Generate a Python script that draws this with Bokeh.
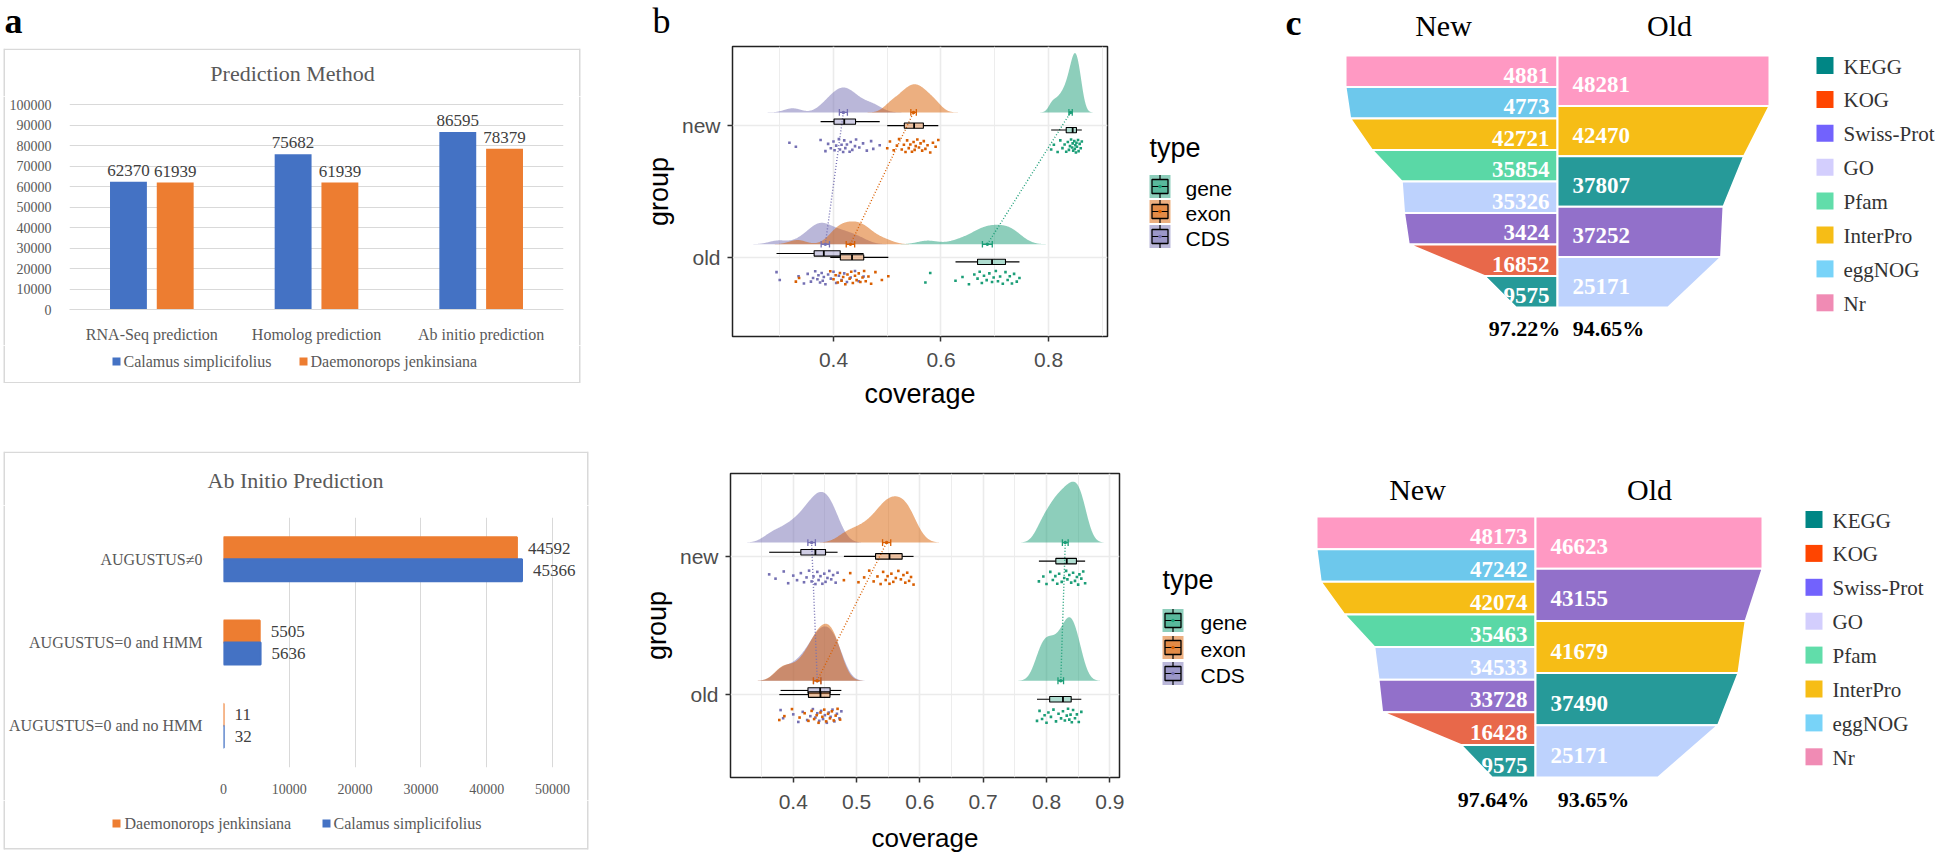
import numpy as np
from bokeh.plotting import figure
from bokeh.layouts import row, column
from bokeh.models import (ColumnDataSource, FactorRange, Range1d, FixedTicker,
                          NumeralTickFormatter, Spacer)
from bokeh.transform import dodge
from bokeh.core.properties import value
from bokeh.embed import file_html
from bokeh.resources import INLINE

# ---------------- panel a (top): Prediction Method ----------------
A1_CATEGORIES = ["RNA-Seq prediction", "Homolog prediction", "Ab initio prediction"]
A1_CALAMUS = [62370, 75682, 86595]
A1_DAEMONOROPS = [61939, 61939, 78379]
A1_YTICKS = [0, 10000, 20000, 30000, 40000, 50000, 60000, 70000, 80000, 90000, 100000]

# ---------------- panel a (bottom): Ab Initio Prediction ----------------
A2_CATEGORIES = ["AUGUSTUS\u22600", "AUGUSTUS=0 and HMM", "AUGUSTUS=0 and no HMM"]
A2_DAEMONOROPS = [44592, 5505, 11]
A2_CALAMUS = [45366, 5636, 32]
A2_XTICKS = [0, 10000, 20000, 30000, 40000, 50000]

SPECIES = ["Calamus simplicifolius", "Daemonorops jenkinsiana"]

# ---------------- panel b: coverage per group / type ----------------
B_TYPES = ["gene", "exon", "CDS"]
B_GROUPS = ["old", "new"]
B1_XTICKS = [0.4, 0.6, 0.8]
B1_XMINOR = [0.3, 0.5, 0.7, 0.9]
B2_XTICKS = [0.4, 0.5, 0.6, 0.7, 0.8, 0.9]
B2_XMINOR = [0.35, 0.45, 0.55, 0.65, 0.75, 0.85]

B1_NEW_CDS = [0.318, 0.33, 0.376, 0.385, 0.39, 0.395, 0.40, 0.402, 0.405, 0.41, 0.412, 0.415, 0.418,
              0.42, 0.422, 0.425, 0.43, 0.432, 0.435, 0.44, 0.442, 0.448, 0.455, 0.462, 0.47, 0.474, 0.486]
B1_NEW_EXON = [0.50, 0.505, 0.512, 0.518, 0.522, 0.527, 0.531, 0.534, 0.537, 0.54, 0.543, 0.546, 0.549,
               0.551, 0.553, 0.556, 0.559, 0.562, 0.565, 0.568, 0.571, 0.575, 0.58, 0.585, 0.59, 0.595]
B1_NEW_GENE = [0.805, 0.81, 0.817, 0.822, 0.826, 0.83, 0.833, 0.836, 0.838, 0.84, 0.842, 0.844, 0.845,
               0.846, 0.848, 0.849, 0.85, 0.851, 0.852, 0.853, 0.855, 0.856, 0.858, 0.86, 0.862]
B1_OLD_CDS = [0.294, 0.30, 0.335, 0.345, 0.352, 0.358, 0.362, 0.366, 0.37, 0.372, 0.375, 0.378, 0.38,
              0.382, 0.385, 0.39, 0.395, 0.40, 0.405, 0.41, 0.415, 0.42, 0.425, 0.432, 0.44, 0.447, 0.456]
B1_OLD_EXON = [0.33, 0.336, 0.394, 0.40, 0.404, 0.408, 0.412, 0.415, 0.418, 0.422, 0.426, 0.43, 0.433,
               0.436, 0.44, 0.443, 0.447, 0.45, 0.454, 0.457, 0.46, 0.465, 0.47, 0.478, 0.49, 0.502]
B1_OLD_GENE = [0.571, 0.58, 0.627, 0.64, 0.652, 0.662, 0.668, 0.672, 0.676, 0.68, 0.685, 0.69, 0.695,
               0.698, 0.702, 0.706, 0.71, 0.715, 0.72, 0.724, 0.728, 0.732, 0.736, 0.741, 0.746]

B2_NEW_CDS = [0.362, 0.372, 0.385, 0.392, 0.40, 0.406, 0.412, 0.417, 0.421, 0.425, 0.429, 0.432, 0.435,
              0.438, 0.44, 0.443, 0.446, 0.449, 0.451, 0.454, 0.457, 0.46, 0.463, 0.467, 0.47]
B2_NEW_EXON = [0.48, 0.49, 0.503, 0.512, 0.52, 0.527, 0.533, 0.538, 0.542, 0.546, 0.549, 0.552, 0.555,
               0.558, 0.562, 0.566, 0.57, 0.574, 0.577, 0.58, 0.583, 0.586, 0.59]
B2_NEW_GENE = [0.788, 0.795, 0.80, 0.806, 0.81, 0.814, 0.817, 0.82, 0.824, 0.828, 0.831, 0.833, 0.836,
               0.839, 0.842, 0.845, 0.848, 0.85, 0.852, 0.855, 0.858, 0.861]
B2_OLD_CDS = [0.38, 0.384, 0.40, 0.408, 0.415, 0.422, 0.427, 0.431, 0.435, 0.438, 0.441, 0.444, 0.447,
              0.45, 0.453, 0.456, 0.459, 0.462, 0.465, 0.469, 0.473, 0.476]
B2_OLD_EXON = [0.378, 0.386, 0.398, 0.41, 0.418, 0.424, 0.429, 0.433, 0.437, 0.44, 0.443, 0.446, 0.449,
               0.452, 0.455, 0.458, 0.461, 0.464, 0.467, 0.47, 0.474]
B2_OLD_GENE = [0.785, 0.789, 0.793, 0.797, 0.80, 0.803, 0.807, 0.811, 0.815, 0.819, 0.823, 0.826, 0.829,
               0.832, 0.834, 0.836, 0.838, 0.84, 0.842, 0.845, 0.848, 0.851, 0.855]

# ---------------- panel c: annotation funnels ----------------
C_NEW_DB = ["Nr", "eggNOG", "InterPro", "Pfam", "GO", "Swiss-Prot", "KOG", "KEGG"]
C1_NEW_VALUES = [48810, 47730, 42721, 35854, 35326, 34240, 16852, 9575]
C1_NEW_LABELS = ["4881", "4773", "42721", "35854", "35326", "3424", "16852", "9575"]
C1_OLD_DB = ["Nr", "InterPro", "KEGG", "Swiss-Prot", "GO"]
C1_OLD_VALUES = [48281, 42470, 37807, 37252, 25171]
C1_PERCENT = ["97.22%", "94.65%"]
C2_NEW_VALUES = [48173, 47242, 42074, 35463, 34533, 33728, 16428, 9575]
C2_NEW_LABELS = ["48173", "47242", "42074", "35463", "34533", "33728", "16428", "9575"]
C2_OLD_DB = ["Nr", "Swiss-Prot", "InterPro", "KEGG", "GO"]
C2_OLD_VALUES = [46623, 43155, 41679, 37490, 25171]
C2_PERCENT = ["97.64%", "93.65%"]
C_LEGEND = ["KEGG", "KOG", "Swiss-Prot", "GO", "Pfam", "InterPro", "eggNOG", "Nr"]

# ---------------- styles ----------------
SERIF = "Liberation Serif"
SANS = "Liberation Sans"
BLUE = "#4472C4"
ORANGE = "#ED7D31"
AXGRAY = "#595959"
GRIDGRAY = "#D9D9D9"
LETTER_SIZE = "36px"
B_COLORS = {"gene": "#1B9E77", "exon": "#D95F02", "CDS": "#7570B3"}
BOX_OFFSET = {"CDS": 0.03, "exon": 0.0, "gene": -0.034}
JITTER = [0.012, 0.071, 0.043, 0.098, 0.025, 0.084, 0.056, 0.005, 0.066, 0.035, 0.09, 0.018, 0.077,
          0.049, 0.104, 0.03, 0.061, 0.009, 0.094, 0.039, 0.072, 0.021, 0.087, 0.052, 0.003, 0.081,
          0.045, 0.1]
FUNNEL_FILL = {"Nr": "#FF99C3", "eggNOG": "#6DC8EC", "InterPro": "#F6BD16", "Pfam": "#5AD8A6",
               "GO": "#BDD2FD", "Swiss-Prot": "#9270CA", "KOG": "#E8684A", "KEGG": "#269A99"}
LEGEND_FILL = {"KEGG": "#008685", "KOG": "#FF4500", "Swiss-Prot": "#7262FD", "GO": "#D3CEFD",
               "Pfam": "#61DDAA", "InterPro": "#F6BD16", "eggNOG": "#78D3F8", "Nr": "#F08BB4"}


def make_fig(canvas, frame, **kw):
    """Chart figure whose plot frame sits at `frame` (page pixel box) inside `canvas`."""
    cl, ct, cr, cb = canvas
    fl, ft, fr, fb = frame
    p = figure(width=cr - cl, height=cb - ct, title=None, toolbar_location=None,
               output_backend="svg", min_border_left=fl - cl, min_border_right=cr - fr,
               min_border_top=ft - ct, min_border_bottom=cb - fb, **kw)
    p.background_fill_color = "white"
    p.border_fill_color = "white"
    return p


def deco_fig(canvas):
    """Axis-less figure whose data space equals page pixels (y downwards)."""
    cl, ct, cr, cb = canvas
    p = figure(width=cr - cl, height=cb - ct, title=None, toolbar_location=None, output_backend="svg",
               x_range=Range1d(cl, cr), y_range=Range1d(cb, ct), x_axis_location=None,
               y_axis_location=None, min_border=0)
    p.outline_line_color = None
    p.xgrid.visible = False
    p.ygrid.visible = False
    p.background_fill_color = "white"
    p.border_fill_color = "white"
    return p


def txt(p, x, y, text, size, font=SERIF, color="black", align="left", baseline="middle", style="normal"):
    p.text(x=[x], y=[y], text=[text], text_font=value(font), text_font_size=size, text_color=color,
           text_align=align, text_baseline=baseline, text_font_style=style)


def lines(p, segs, color=GRIDGRAY, width=1.5):
    p.segment(x0=[s[0] for s in segs], y0=[s[1] for s in segs], x1=[s[2] for s in segs],
              y1=[s[3] for s in segs], line_color=color, line_width=width)


def box(*children):
    return column(*children)


# =============== panel a, top ===============
letterA = deco_fig((0, 0, 600, 48))
txt(letterA, 4, 20, "a", LETTER_SIZE, style="bold")

XL, XR1, XR2 = 3.75, 579.25, 587.25
tA1 = deco_fig((0, 48, 581, 96))
lines(tA1, [(XL, 48.75, XR1, 48.75), (XL, 48, XL, 96), (XR1, 48, XR1, 96)])
txt(tA1, 292, 73, "Prediction Method", "22px", color=AXGRAY, align="center")

sideA1L = deco_fig((0, 96, 6, 345))
lines(sideA1L, [(XL, 96, XL, 345)])
sideA1R = deco_fig((578, 96, 581, 345))
lines(sideA1R, [(XR1, 96, XR1, 345)])

pA1 = make_fig((6, 96, 578, 345), (68, 103, 563, 311),
               x_range=FactorRange(factors=A1_CATEGORIES), y_range=Range1d(0, 100500))
srcA1 = ColumnDataSource(dict(cat=A1_CATEGORIES, cal=A1_CALAMUS, dae=A1_DAEMONOROPS,
                              cal_t=[str(v) for v in A1_CALAMUS], dae_t=[str(v) for v in A1_DAEMONOROPS]))
for col, off, colr in (("cal", -0.142, BLUE), ("dae", 0.142, ORANGE)):
    pA1.vbar(x=dodge("cat", off, range=pA1.x_range), top=col, width=0.224, source=srcA1,
             fill_color=colr, line_color=None)
    pA1.text(x=dodge("cat", off, range=pA1.x_range), y=col, text=col + "_t", source=srcA1,
             text_align="center", text_baseline="bottom", y_offset=-6, text_font=value(SERIF),
             text_font_size="17px", text_color="#404040")
pA1.yaxis.ticker = FixedTicker(ticks=A1_YTICKS)
pA1.yaxis.formatter = NumeralTickFormatter(format="0")
pA1.ygrid.ticker = FixedTicker(ticks=A1_YTICKS)
pA1.ygrid.grid_line_color = GRIDGRAY
pA1.xgrid.grid_line_color = None
for ax in (pA1.xaxis, pA1.yaxis):
    ax.axis_line_color = None
    ax.major_tick_line_color = None
    ax.minor_tick_line_color = None
    ax.major_label_text_font = SERIF
    ax.major_label_text_color = AXGRAY
pA1.yaxis.major_label_text_font_size = "14px"
pA1.yaxis.major_label_standoff = 12
pA1.xaxis.major_label_text_font_size = "16px"
pA1.xaxis.major_label_standoff = 10
pA1.xaxis.axis_line_color = GRIDGRAY
pA1.outline_line_color = None

lA1 = deco_fig((0, 345, 581, 383))
lines(lA1, [(XL, 382.25, XR1, 382.25), (XL, 345, XL, 383), (XR1, 345, XR1, 383)])
lA1.rect(x=[116, 303], y=[361, 361], width=8, height=8, fill_color=[BLUE, ORANGE], line_color=None)
lA1.text(x=[123, 310], y=[361, 361], text=SPECIES, text_font=value(SERIF), text_font_size="16px",
         text_color=AXGRAY, text_align="left", text_baseline="middle")

blockA1 = column(box(tA1), row(box(sideA1L), box(pA1), box(sideA1R)), box(lA1))

# =============== panel a, bottom ===============
tA2 = deco_fig((0, 451, 589, 505))
lines(tA2, [(XL, 451.75, XR2, 451.75), (XL, 451, XL, 505), (XR2, 451, XR2, 505)])
txt(tA2, 295, 480, "Ab Initio Prediction", "22px", color=AXGRAY, align="center")

sideA2L = deco_fig((0, 505, 6, 800))
lines(sideA2L, [(XL, 505, XL, 800)])
sideA2R = deco_fig((586, 505, 589, 800))
lines(sideA2R, [(XR2, 505, XR2, 800)])

pA2 = make_fig((6, 505, 586, 800), (223, 517, 582, 767),
               x_range=Range1d(0, 50000 * (582 - 223) / 329.0),
               y_range=FactorRange(factors=A2_CATEGORIES[::-1]))
srcA2 = ColumnDataSource(dict(cat=A2_CATEGORIES, cal=A2_CALAMUS, dae=A2_DAEMONOROPS,
                              cal_t=[str(v) for v in A2_CALAMUS], dae_t=[str(v) for v in A2_DAEMONOROPS]))
for col, off, colr in (("dae", 0.132, ORANGE), ("cal", -0.132, BLUE)):
    pA2.hbar(y=dodge("cat", off, range=pA2.y_range), left=0, right=col, height=0.264, source=srcA2,
             fill_color=colr, line_color=colr, line_width=2)
    pA2.text(x=col, y=dodge("cat", off, range=pA2.y_range), text=col + "_t", source=srcA2,
             text_align="left", text_baseline="middle", x_offset=11, text_font=value(SERIF),
             text_font_size="17px", text_color="#404040")
pA2.xaxis.ticker = FixedTicker(ticks=A2_XTICKS)
pA2.xgrid.ticker = FixedTicker(ticks=A2_XTICKS)
pA2.xgrid.grid_line_color = GRIDGRAY
pA2.ygrid.grid_line_color = None
for ax in (pA2.xaxis, pA2.yaxis):
    ax.axis_line_color = None
    ax.major_tick_line_color = None
    ax.minor_tick_line_color = None
    ax.major_label_text_font = SERIF
    ax.major_label_text_color = AXGRAY
pA2.xaxis.major_label_text_font_size = "14px"
pA2.xaxis.major_label_standoff = 10
pA2.yaxis.major_label_text_font_size = "16px"
pA2.yaxis.major_label_standoff = 15
pA2.outline_line_color = None

lA2 = deco_fig((0, 800, 589, 850))
lines(lA2, [(XL, 848.25, XR2, 848.25), (XL, 800, XL, 849), (XR2, 800, XR2, 849)])
lA2.rect(x=[116, 326], y=[823, 823], width=8, height=8, fill_color=[ORANGE, BLUE], line_color=None)
lA2.text(x=[124, 333], y=[823, 823], text=[SPECIES[1], SPECIES[0]], text_font=value(SERIF),
         text_font_size="16px", text_color=AXGRAY, text_align="left", text_baseline="middle")

blockA2 = column(box(tA2), row(box(sideA2L), box(pA2), box(sideA2R)), box(lA2))

colA = column(box(letterA), blockA1, Spacer(width=10, height=68), blockA2)


# =============== panel b ===============
def style_b(p, xticks, xminor, tick_standoff, title_standoff, x_title=True):
    p.xaxis.ticker = FixedTicker(ticks=xticks)
    p.xgrid.ticker = FixedTicker(ticks=xticks, minor_ticks=xminor)
    p.yaxis.ticker = FixedTicker(ticks=[1, 2])
    p.ygrid.ticker = FixedTicker(ticks=[1, 2])
    p.yaxis.major_label_overrides = {1: "old", 2: "new"}
    p.xgrid.grid_line_color = "#EBEBEB"
    p.xgrid.grid_line_width = 1.6
    p.xgrid.minor_grid_line_color = "#EBEBEB"
    p.xgrid.minor_grid_line_width = 0.9
    p.ygrid.grid_line_color = "#EBEBEB"
    p.ygrid.grid_line_width = 1.6
    p.outline_line_color = "#222222"
    p.outline_line_width = 1.5
    if x_title:
        p.xaxis.axis_label = "coverage"
    p.yaxis.axis_label = "group"
    for ax in (p.xaxis, p.yaxis):
        ax.axis_line_color = None
        ax.major_tick_line_color = "#333333"
        ax.major_tick_line_width = 1.5
        ax.major_tick_in = 0
        ax.major_tick_out = 5
        ax.minor_tick_line_color = None
        ax.major_label_text_font = SANS
        ax.major_label_text_font_size = "21px"
        ax.major_label_text_color = "#4D4D4D"
        ax.axis_label_text_font = SANS
        ax.axis_label_text_font_size = "27px"
        ax.axis_label_text_font_style = "normal"
        ax.axis_label_text_color = "black"
    p.xaxis.major_label_standoff = tick_standoff
    p.xaxis.axis_label_standoff = title_standoff
    p.yaxis.major_label_standoff = 7
    p.yaxis.axis_label_standoff = 5


def draw_raincloud(p, data, peak):
    gy = {"old": 1.0, "new": 2.0}
    slabs = []
    for grp in B_GROUPS:
        for t in ["CDS", "exon", "gene"]:
            pts = np.asarray(data[(grp, t)], float)
            n = len(pts)
            sd = pts.std(ddof=1)
            q75, q25 = np.percentile(pts, [75, 25])
            bw = 0.9 * min(sd, (q75 - q25) / 1.34) * n ** -0.2
            grid = np.linspace(pts.min() - 3 * bw, pts.max() + 3 * bw, 300)
            z = (grid[:, None] - pts[None, :]) / bw
            dens = np.exp(-0.5 * z * z).sum(axis=1) / (n * bw * np.sqrt(2 * np.pi))
            slabs.append((grp, t, grid, dens))
    scale = peak / max(s[3].max() for s in slabs)
    for grp, t, grid, dens in slabs:
        base = gy[grp] + 0.1
        p.varea(x=grid, y1=np.full(grid.shape, base), y2=base + dens * scale,
                fill_color=B_COLORS[t], fill_alpha=0.5)
    for t in B_TYPES:
        m_old = float(np.mean(data[("old", t)]))
        m_new = float(np.mean(data[("new", t)]))
        p.line([m_old, m_new], [1.1, 2.1], line_color=B_COLORS[t], line_dash="1 2", line_width=1.4)
    k = 0
    for grp in B_GROUPS:
        for t in ["CDS", "exon", "gene"]:
            pts = np.asarray(data[(grp, t)], float)
            c = B_COLORS[t]
            q1, med, q3 = np.percentile(pts, [25, 50, 75])
            iqr = q3 - q1
            lo = pts[pts >= q1 - 1.5 * iqr].min()
            hi = pts[pts <= q3 + 1.5 * iqr].max()
            yb = gy[grp] + BOX_OFFSET[t]
            p.segment(x0=[lo, q3], y0=[yb, yb], x1=[q1, hi], y1=[yb, yb], line_color="black", line_width=1.1)
            p.hbar(y=[yb], left=[q1], right=[q3], height=0.04, fill_color=c, fill_alpha=0.35,
                   line_color="black", line_width=1.1)
            p.segment(x0=[med], y0=[yb - 0.02], x1=[med], y1=[yb + 0.02], line_color="black", line_width=1.8)
            ys = [gy[grp] - 0.1 - JITTER[(i + 5 * k) % len(JITTER)] for i in range(len(pts))]
            p.scatter(x=pts, y=ys, marker="square", size=2.6, fill_color=c, line_color=None)
            m = pts.mean()
            se = pts.std(ddof=1) / np.sqrt(len(pts))
            b = gy[grp] + 0.1
            p.segment(x0=[m - se, m - se, m + se], y0=[b, b - 0.025, b - 0.025],
                      x1=[m + se, m - se, m + se], y1=[b, b + 0.025, b + 0.025],
                      line_color=c, line_width=1.3)
            p.scatter(x=[m], y=[b], size=3.5, fill_color=c, line_color=None)
            k += 1


def b_legend(p, x0, title_y, centers, label_x):
    txt(p, x0, title_y, "type", "27px", font=SANS)
    for t, cy in zip(B_TYPES, centers):
        c = B_COLORS[t]
        p.rect(x=[x0 + 10.5], y=[cy], width=21, height=23, fill_color=c, fill_alpha=0.5, line_color=None)
        p.rect(x=[x0 + 10.5], y=[cy], width=16, height=14, fill_color=c, fill_alpha=0.45,
               line_color="black", line_width=1.3)
        p.segment(x0=[x0 + 10.5, x0 + 10.5, x0 + 2.5], y0=[cy - 11.5, cy + 7, cy],
                  x1=[x0 + 10.5, x0 + 10.5, x0 + 18.5], y1=[cy - 7, cy + 11.5, cy],
                  line_color="black", line_width=1.2)
        p.scatter(x=[x0 + 10.5], y=[cy], size=3.5, fill_color=c, line_color=None)
        txt(p, label_x, cy + 2, t, "21px", font=SANS)


letterB = deco_fig((600, 0, 1270, 44))
txt(letterB, 652, 20, "b", LETTER_SIZE)

pB1 = make_fig((600, 44, 1120, 424), (732, 46, 1107, 336),
               x_range=Range1d(0.2121, 0.9098), y_range=Range1d(0.4, 2.6))
style_b(pB1, B1_XTICKS, B1_XMINOR, tick_standoff=11, title_standoff=9)
draw_raincloud(pB1, {("new", "gene"): B1_NEW_GENE, ("new", "exon"): B1_NEW_EXON, ("new", "CDS"): B1_NEW_CDS,
                     ("old", "gene"): B1_OLD_GENE, ("old", "exon"): B1_OLD_EXON, ("old", "CDS"): B1_OLD_CDS},
               peak=0.45)
legB1 = deco_fig((1120, 44, 1270, 424))
b_legend(legB1, 1149, 147, [186, 211, 236], 1185)

pB2 = make_fig((600, 424, 1125, 823), (730, 473, 1119, 777),
               x_range=Range1d(0.3009, 0.9153), y_range=Range1d(0.4, 2.6))
style_b(pB2, B2_XTICKS, B2_XMINOR, tick_standoff=12, title_standoff=5, x_title=False)
draw_raincloud(pB2, {("new", "gene"): B2_NEW_GENE, ("new", "exon"): B2_NEW_EXON, ("new", "CDS"): B2_NEW_CDS,
                     ("old", "gene"): B2_OLD_GENE, ("old", "exon"): B2_OLD_EXON, ("old", "CDS"): B2_OLD_CDS},
               peak=0.46)
covB2 = deco_fig((600, 823, 1125, 853))
txt(covB2, (730 + 1119) / 2, 837.5, "coverage", "26px", font=SANS, align="center")
legB2 = deco_fig((1125, 424, 1270, 853))
b_legend(legB2, 1162, 579, [620, 647, 673], 1200)

colB = column(box(letterB), row(box(pB1), box(legB1)), row(column(box(pB2), box(covB2)), box(legB2)))


# =============== panel c ===============
def funnel(p, xc, y0, y1, dbs, vals, labels, side, W, label_dx):
    n = len(vals)
    pitch = (y1 - y0) / n
    vmax = max(vals)
    widths = [v / vmax * W for v in vals]
    xs, ys, lx, ly = [], [], [], []
    for i in range(n):
        wt = widths[i - 1] if i > 0 else widths[0]
        wb = widths[i]
        yt = y0 + i * pitch
        yb = yt + pitch
        if side == "left":
            xs.append([xc - wt, xc, xc, xc - wb])
            lx.append(xc - label_dx)
        else:
            xs.append([xc, xc + wt, xc + wb, xc])
            lx.append(xc + label_dx)
        ys.append([yt, yt, yb, yb])
        ly.append((yt + yb) / 2 + 4)
    p.patches(xs, ys, fill_color=[FUNNEL_FILL[d] for d in dbs], line_color="white", line_width=2)
    p.text(x=lx, y=ly, text=labels, text_align="right" if side == "left" else "left",
           text_baseline="middle", text_font=value(SERIF), text_font_style="bold",
           text_font_size="23px", text_color="white")


def c_panel(canvas, xc, y0, y1, new_vals, new_labels, old_db, old_vals, pct, WL, WR,
            title_pos, pct_pos, leg_x, leg_y0, letter=False):
    p = deco_fig(canvas)
    funnel(p, xc, y0, y1, C_NEW_DB, new_vals, new_labels, "left", WL, 8)
    funnel(p, xc, y0, y1, old_db, old_vals, [str(v) for v in old_vals], "right", WR, 15)
    p.text(x=[title_pos[0], title_pos[1]], y=[title_pos[2], title_pos[2]], text=["New", "Old"],
           text_align="center", text_baseline="middle", text_font=value(SERIF),
           text_font_size="30px", text_color="black")
    p.text(x=[pct_pos[0], pct_pos[1]], y=[pct_pos[2], pct_pos[2]], text=pct, text_align="center",
           text_baseline="middle", text_font=value(SERIF), text_font_style="bold",
           text_font_size="22px", text_color="black")
    ly = [leg_y0 + i * 33.9 for i in range(len(C_LEGEND))]
    p.rect(x=[leg_x + 8.5] * len(C_LEGEND), y=ly, width=17, height=17,
           fill_color=[LEGEND_FILL[d] for d in C_LEGEND], line_color=None)
    p.text(x=[leg_x + 27] * len(C_LEGEND), y=[v + 1 for v in ly], text=C_LEGEND, text_align="left",
           text_baseline="middle", text_font=value(SERIF), text_font_size="21px", text_color="#333333")
    if letter:
        txt(p, 1285, 22, "c", LETTER_SIZE, style="bold")
    return p


pC1 = c_panel((1270, 0, 1940, 420), 1557, 55, 307, C1_NEW_VALUES, C1_NEW_LABELS, C1_OLD_DB, C1_OLD_VALUES,
              C1_PERCENT, 212, 212, (1443, 1669, 25), (1524, 1608, 328), 1816, 65, letter=True)
pC2 = c_panel((1270, 420, 1940, 850), 1535, 516, 777, C2_NEW_VALUES, C2_NEW_LABELS, C2_OLD_DB, C2_OLD_VALUES,
              C2_PERCENT, 219, 227, (1417, 1649, 489), (1493, 1593, 799), 1805, 519)

colC = column(box(pC1), box(pC2))

layout = row(colA, colB, colC)
open("out.html", "w", encoding="utf-8").write(file_html(layout, INLINE))
